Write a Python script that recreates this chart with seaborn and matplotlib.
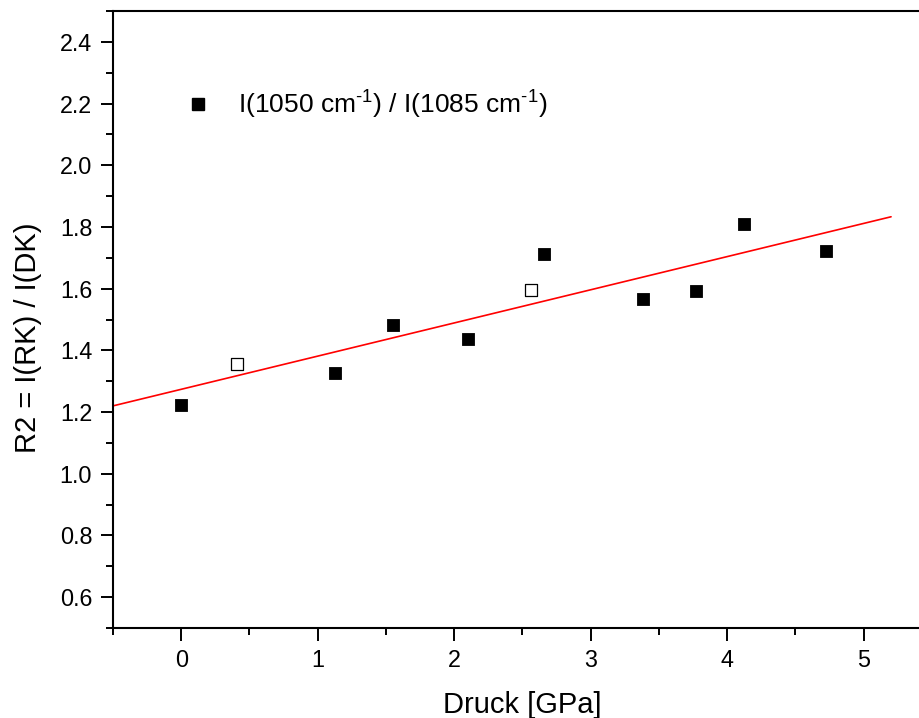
import matplotlib
matplotlib.use("Agg")
import matplotlib.pyplot as plt
from matplotlib.ticker import MultipleLocator
from matplotlib.lines import Line2D
import seaborn as sns
import pandas as pd

# ---- data ----
druck_filled = [0.0, 1.13, 1.55, 2.10, 2.66, 3.38, 3.77, 4.12, 4.72]
r2_filled = [1.222, 1.328, 1.481, 1.436, 1.713, 1.566, 1.593, 1.810, 1.722]
druck_open = [0.41, 2.56]
r2_open = [1.357, 1.596]
fit_x = [-0.5, 5.2]
fit_y = [1.220, 1.833]
y_ticks = [0.6, 0.8, 1.0, 1.2, 1.4, 1.6, 1.8, 2.0, 2.2, 2.4]

series_label = r"I(1050 cm$^{\text{-}1}$) / I(1085 cm$^{\text{-}1}$)"
x_label = "Druck [GPa]"
y_label = "R2 = I(RK) / I(DK)"

sns.set_theme(style="ticks")
plt.rcParams["font.family"] = ["Liberation Sans", "DejaVu Sans"]
plt.rcParams["mathtext.fontset"] = "custom"
plt.rcParams["mathtext.rm"] = "Liberation Sans"
plt.rcParams["mathtext.it"] = "Liberation Sans"
plt.rcParams["mathtext.default"] = "regular"
plt.rcParams["text.color"] = "black"
plt.rcParams["axes.labelcolor"] = "black"

df_f = pd.DataFrame({"x": druck_filled, "y": r2_filled})
df_o = pd.DataFrame({"x": druck_open, "y": r2_open})
df_fit = pd.DataFrame({"x": fit_x, "y": fit_y})

fig = plt.figure(figsize=(9.2, 7.18), dpi=100)
ax = fig.add_axes([113 / 920, 90 / 718, 819 / 920, 617 / 718])

sns.lineplot(data=df_fit, x="x", y="y", ax=ax, color="red", linewidth=1.2,
             legend=False, zorder=2)
sns.scatterplot(data=df_f, x="x", y="y", ax=ax, marker="s", s=78,
                color="black", edgecolor="black", linewidth=0.6, zorder=3,
                legend=False)
sns.scatterplot(data=df_o, x="x", y="y", ax=ax, marker="s", s=72,
                facecolor="white", edgecolor="black", linewidth=0.9, zorder=3,
                legend=False)

ax.set_xlim(-0.5, 5.5)
ax.set_ylim(0.5, 2.5)
ax.xaxis.set_major_locator(MultipleLocator(1))
ax.xaxis.set_minor_locator(MultipleLocator(0.5))
ax.yaxis.set_minor_locator(MultipleLocator(0.1))
ax.set_yticks(y_ticks)
ax.set_yticklabels([f"{v:.1f}" for v in y_ticks])

for s in ["left", "bottom", "top", "right"]:
    ax.spines[s].set_linewidth(1.5)
    ax.spines[s].set_color("black")

ax.tick_params(axis="both", which="major", direction="out", length=9,
               width=1.4, labelsize=16.8, colors="black", pad=6)
ax.tick_params(axis="both", which="minor", direction="out", length=5,
               width=1.4, colors="black")
ax.tick_params(top=False, right=False, which="both")

ax.set_xlabel(x_label, fontsize=21, labelpad=14, color="black")
ax.set_ylabel(y_label, fontsize=21, color="black")
ax.yaxis.set_label_coords(-0.087, 0.47)

handle = Line2D([], [], marker="s", linestyle="none", color="black",
                markersize=8.8)
ax.legend([handle], [series_label], loc="center left",
          bbox_to_anchor=(0.072, 0.848), frameon=False, fontsize=19,
          handletextpad=1.0, borderpad=0, handlelength=1.0)

fig.savefig("out.png", dpi=100)
